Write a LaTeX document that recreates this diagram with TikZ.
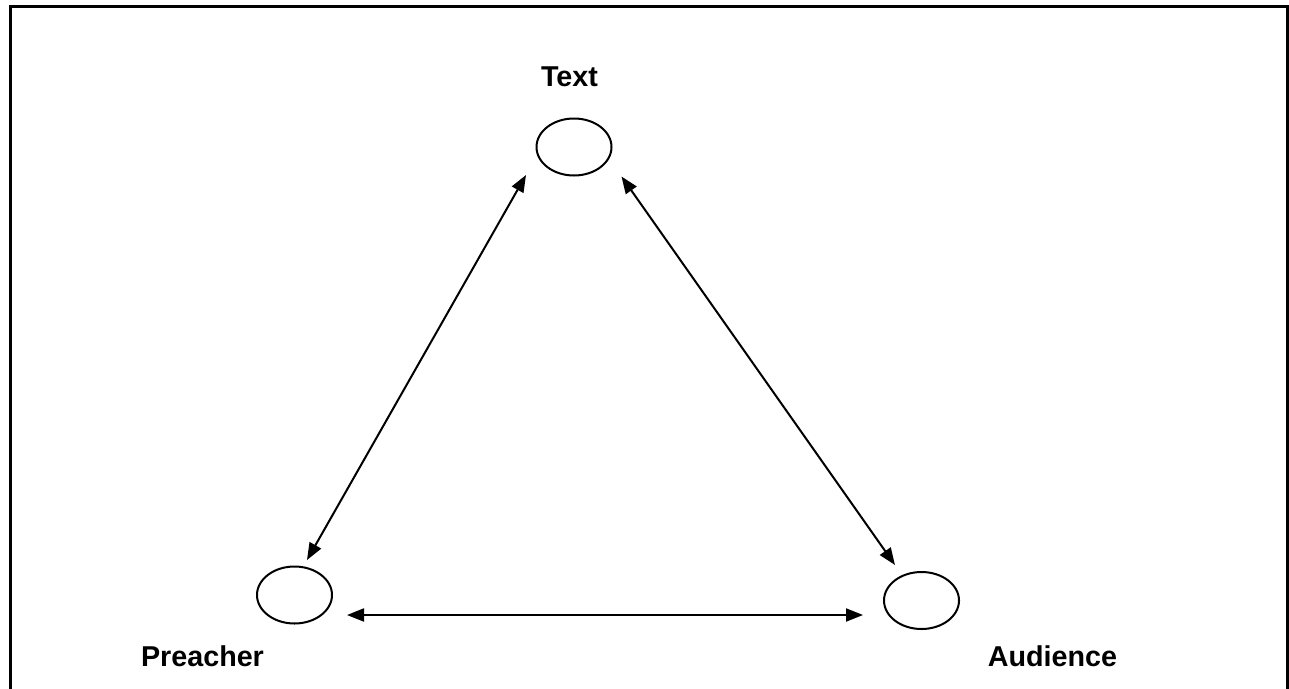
\documentclass[tikz,border=0pt]{standalone}
\usepackage{fontspec}
\setmainfont{Liberation Sans}
\usetikzlibrary{arrows.meta,shapes.geometric}
\begin{document}
\begin{tikzpicture}[x=1pt,y=-1pt,
  circ/.style={draw,line width=2pt,ellipse,minimum width=75pt,minimum height=57pt,inner sep=0pt},
  lbl/.style={anchor=base,inner sep=0pt,font=\fontsize{28.7}{30}\selectfont\bfseries},
  link/.style={line width=2pt,{Triangle[length=17pt,width=13pt]}-{Triangle[length=17pt,width=13pt]}}]
\useasboundingbox (0,0) rectangle (1289,688);
\draw[line width=3pt] (10.5,700) -- (10.5,6.5) -- (1287,6.5) -- (1287,700);
\node[circ] (t) at (574,147) {};
\node[circ] (p) at (294.5,595) {};
\node[circ] (a) at (921.5,600.5) {};
\node[lbl] (tl) at (569.5,86) {Text};
\node[lbl] (pl) at (202.5,666) {Preacher};
\node[lbl] (al) at (1052.5,666) {Audience};
\coordinate (t1) at (526,175);
\coordinate (p1) at (307,560);
\coordinate (t2) at (621.5,176.5);
\coordinate (a1) at (895,565);
\coordinate (p2) at (347,615);
\coordinate (a2) at (863,615);
\draw[link] (t1) -- (p1);
\draw[link] (t2) -- (a1);
\draw[link] (p2) -- (a2);
\end{tikzpicture}
\end{document}
